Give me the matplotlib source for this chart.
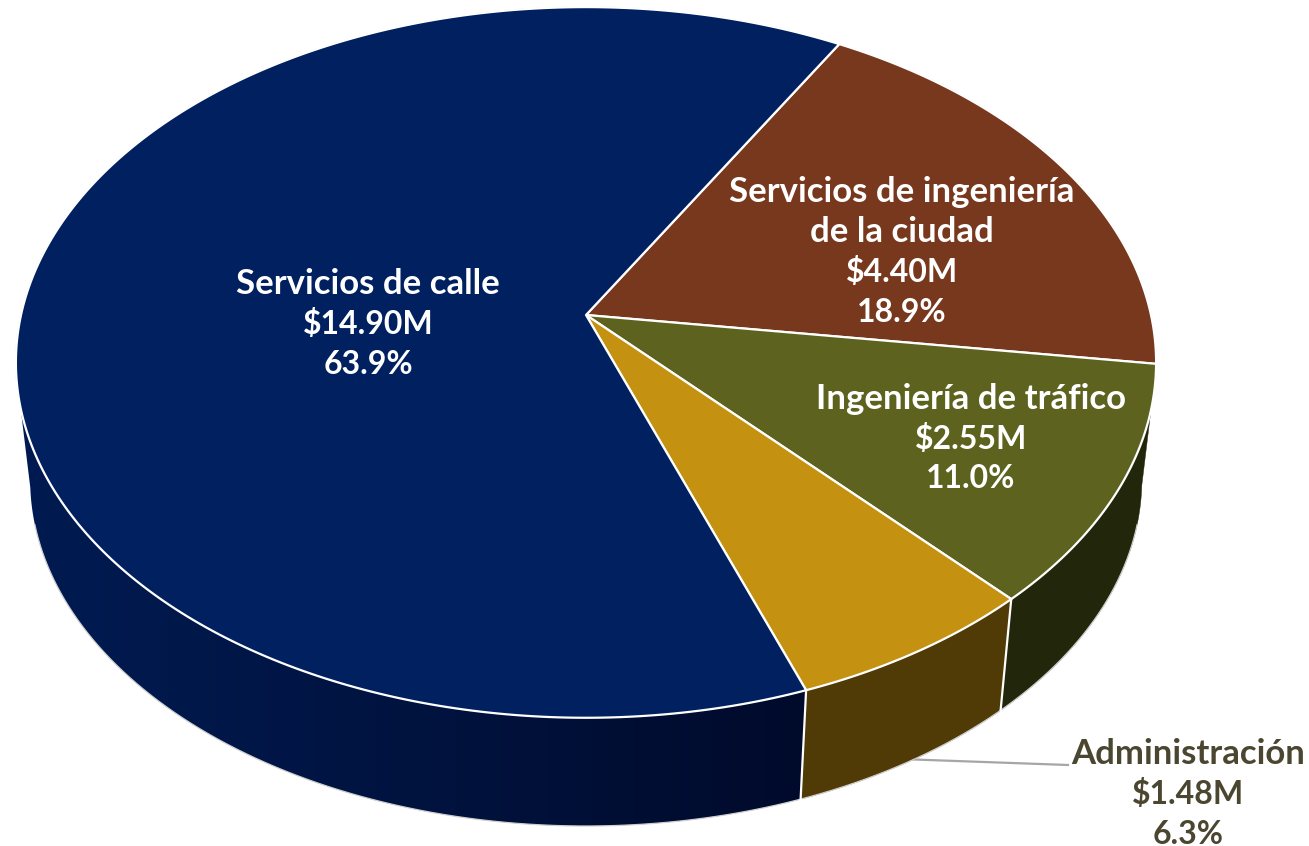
import numpy as np
import matplotlib
matplotlib.use("Agg")
import matplotlib.pyplot as plt
from matplotlib.colors import LinearSegmentedColormap
from matplotlib.patches import Polygon

# Datos (en el orden del pastel, en sentido horario)
nombres = [["Servicios de ingeniería", "de la ciudad"], ["Ingeniería de tráfico"], ["Administración"], ["Servicios de calle"]]
millones = [4.40, 2.55, 1.48, 14.90]
porcentajes = [18.9, 11.0, 6.3, 63.9]

color_cara = ["#77381e", "#5d621e", "#c59110", "#002060"]
color_pared = ["#3b1c0f", "#22260a", "#503a06", "#001b52"]
color_texto = ["white", "white", "#4b4630", "white"]
pos_texto = [(902, 192), (971, 399), (1188, 754), (368, 284)]

angulo_inicio = 30.0
fuente = "Lato"
tam_nombre = 25
tam_valor = 23
paso = 40

# Perspectiva del disco superior e inferior
cx, cy = 586, 315
k = 0.1335
A, B = 565.0, 349.0
escala_base = 0.975
cy_base = 433.3


def proyectar(theta, base=False):
    x, y = np.sin(theta), np.cos(theta)
    w = 1 + k * y
    sx, sy = A * x / w, B * y / w
    if base:
        return cx + escala_base * sx, cy_base - escala_base * sy
    return cx + sx, cy - sy


fig = plt.figure(figsize=(13.09, 8.46), dpi=100)
ax = fig.add_axes([0, 0, 1, 1])

fracciones = np.array(millones) / sum(millones)
bordes = np.radians(angulo_inicio + 360 * np.concatenate([[0], np.cumsum(fracciones)]))

# Paredes laterales: solo la parte que mira al frente
degradado = LinearSegmentedColormap.from_list("navy", ["#001b52", "#00133f", "#000a2b"])
for i in range(len(millones)):
    t = np.linspace(bordes[i], bordes[i + 1], 500)
    t = t[np.cos(t) < -0.15]
    if len(t) < 2:
        continue
    xs, ys = proyectar(t)
    xb, yb = proyectar(t[::-1], True)
    puntos = np.column_stack([np.r_[xs, xb], np.r_[ys, yb]])
    if i == 3:
        pol = Polygon(puntos, closed=True, facecolor="none", edgecolor="none", zorder=2)
        ax.add_patch(pol)
        img = ax.imshow(np.linspace(0, 1, 256)[None, :], cmap=degradado, aspect="auto",
                        extent=(20, 810, 846, 0), zorder=2)
        img.set_clip_path(pol)
    else:
        ax.fill(puntos[:, 0], puntos[:, 1], color=color_pared[i], lw=0.3, zorder=2)

ax.set_xlim(0, 1309)
ax.set_ylim(846, 0)
ax.axis("off")

# Contorno gris fino de la silueta
t = np.radians(np.linspace(105, 255, 400))
ax.plot(*proyectar(t, True), color="#cfcfcf", lw=0.9, zorder=3)
t = np.radians(np.linspace(-105, 105, 600))
ax.plot(*proyectar(t), color="#cfcfcf", lw=1.0, zorder=3)

# Divisiones visibles en la pared
for b in bordes:
    if np.cos(b) < -0.3:
        x0, y0 = proyectar(b)
        x1, y1 = proyectar(b, True)
        ax.plot([x0, x1], [y0, y1], color="white", lw=1.6, zorder=4)

# Cara superior
for i in range(len(millones)):
    t = np.linspace(bordes[i], bordes[i + 1], 300)
    xs, ys = proyectar(t)
    ax.fill(np.r_[cx, xs], np.r_[cy, ys], facecolor=color_cara[i], edgecolor="white",
            lw=1.6, joinstyle="round", zorder=5)

# Línea guía de Administración
ax.plot([900, 1068], [759, 765], color="#a6a6a6", lw=1.6, zorder=1)

# Etiquetas
for i in range(len(millones)):
    for j, linea in enumerate(nombres[i]):
        ax.text(pos_texto[i][0], pos_texto[i][1] + j * paso, linea, color=color_texto[i], family=fuente,
                fontsize=tam_nombre, fontweight="bold", ha="center", va="center", zorder=6)
    n = len(nombres[i])
    valores = [f"${millones[i]:.2f}M", f"{porcentajes[i]:.1f}%"]
    for j, linea in enumerate(valores):
        ax.text(pos_texto[i][0], pos_texto[i][1] + (n + j) * paso, linea, color=color_texto[i], family=fuente,
                fontsize=tam_valor, fontweight="bold", ha="center", va="center", zorder=6)

fig.savefig("out.png", dpi=100)
